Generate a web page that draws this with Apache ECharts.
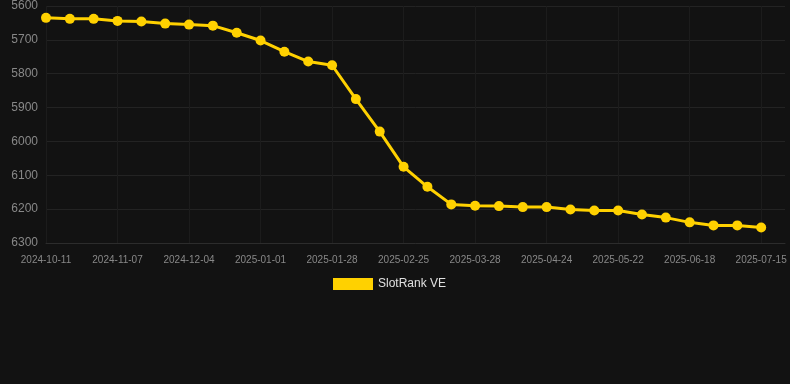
<!DOCTYPE html>
<html>
<head>
<meta charset="utf-8">
<script src="https://cdn.jsdelivr.net/npm/echarts@6/dist/echarts.min.js"></script>
<style>
    html, body { margin: 0; padding: 0; background: #121212; }
    #chart { width: 790px; height: 384px; }
</style>
</head>
<body>
<div id="chart"></div>
<script>
    // 日期（最后一个为空位，用来让网格延伸到右侧）
    const dates = [
        '2024-10-11', '2024-10-20', '2024-10-29', '2024-11-07', '2024-11-16', '2024-11-25',
        '2024-12-04', '2024-12-13', '2024-12-22', '2025-01-01', '2025-01-10', '2025-01-19',
        '2025-01-28', '2025-02-06', '2025-02-15', '2025-02-25', '2025-03-06', '2025-03-17',
        '2025-03-28', '2025-04-06', '2025-04-15', '2025-04-24', '2025-05-03', '2025-05-12',
        '2025-05-22', '2025-05-31', '2025-06-09', '2025-06-18', '2025-06-27', '2025-07-06',
        '2025-07-15', ''
    ];
    const rankValues = [
        5635, 5638, 5638, 5644, 5646, 5652, 5655, 5658, 5679, 5702, 5735, 5764,
        5775, 5875, 5971, 6075, 6134, 6186, 6190, 6191, 6194, 6194, 6201, 6204,
        6204, 6216, 6225, 6239, 6248, 6248, 6254, null
    ];
    const seriesName = 'SlotRank VE';

    const chart = echarts.init(document.getElementById('chart'));
    const option = {
        backgroundColor: '#121212',
        animation: false,
        grid: { left: 46, right: 5, top: 6, bottom: 141 },
        legend: {
            data: [seriesName],
            top: 273,
            left: 328,
            itemWidth: 40,
            itemHeight: 12,
            icon: 'rect',
            textStyle: { color: '#e0e0e0', fontSize: 12 }
        },
        xAxis: {
            type: 'category',
            boundaryGap: false,
            data: dates,
            axisLine: { show: true, lineStyle: { color: '#2c2c2c' } },
            axisTick: { show: false },
            axisLabel: {
                color: '#888',
                fontSize: 10,
                interval: function (index) { return index % 3 === 0; },
                margin: 12
            },
            splitLine: {
                show: true,
                interval: function (index) { return index % 3 === 0; },
                lineStyle: { color: '#1c1c1c', width: 1 }
            }
        },
        yAxis: {
            type: 'value',
            inverse: true,
            min: 5600,
            max: 6300,
            interval: 100,
            axisLine: { show: false },
            axisTick: { show: false },
            axisLabel: {
                color: '#888',
                fontSize: 12,
                margin: 8,
                formatter: function (v) { return String(v); }
            },
            splitLine: { lineStyle: { color: '#232323', width: 1 } }
        },
        series: [
            {
                name: seriesName,
                type: 'line',
                data: rankValues,
                symbol: 'circle',
                symbolSize: 10,
                itemStyle: { color: '#FFD100' },
                lineStyle: { color: '#FFD100', width: 3 }
            }
        ]
    };
    chart.setOption(option);
</script>
</body>
</html>
